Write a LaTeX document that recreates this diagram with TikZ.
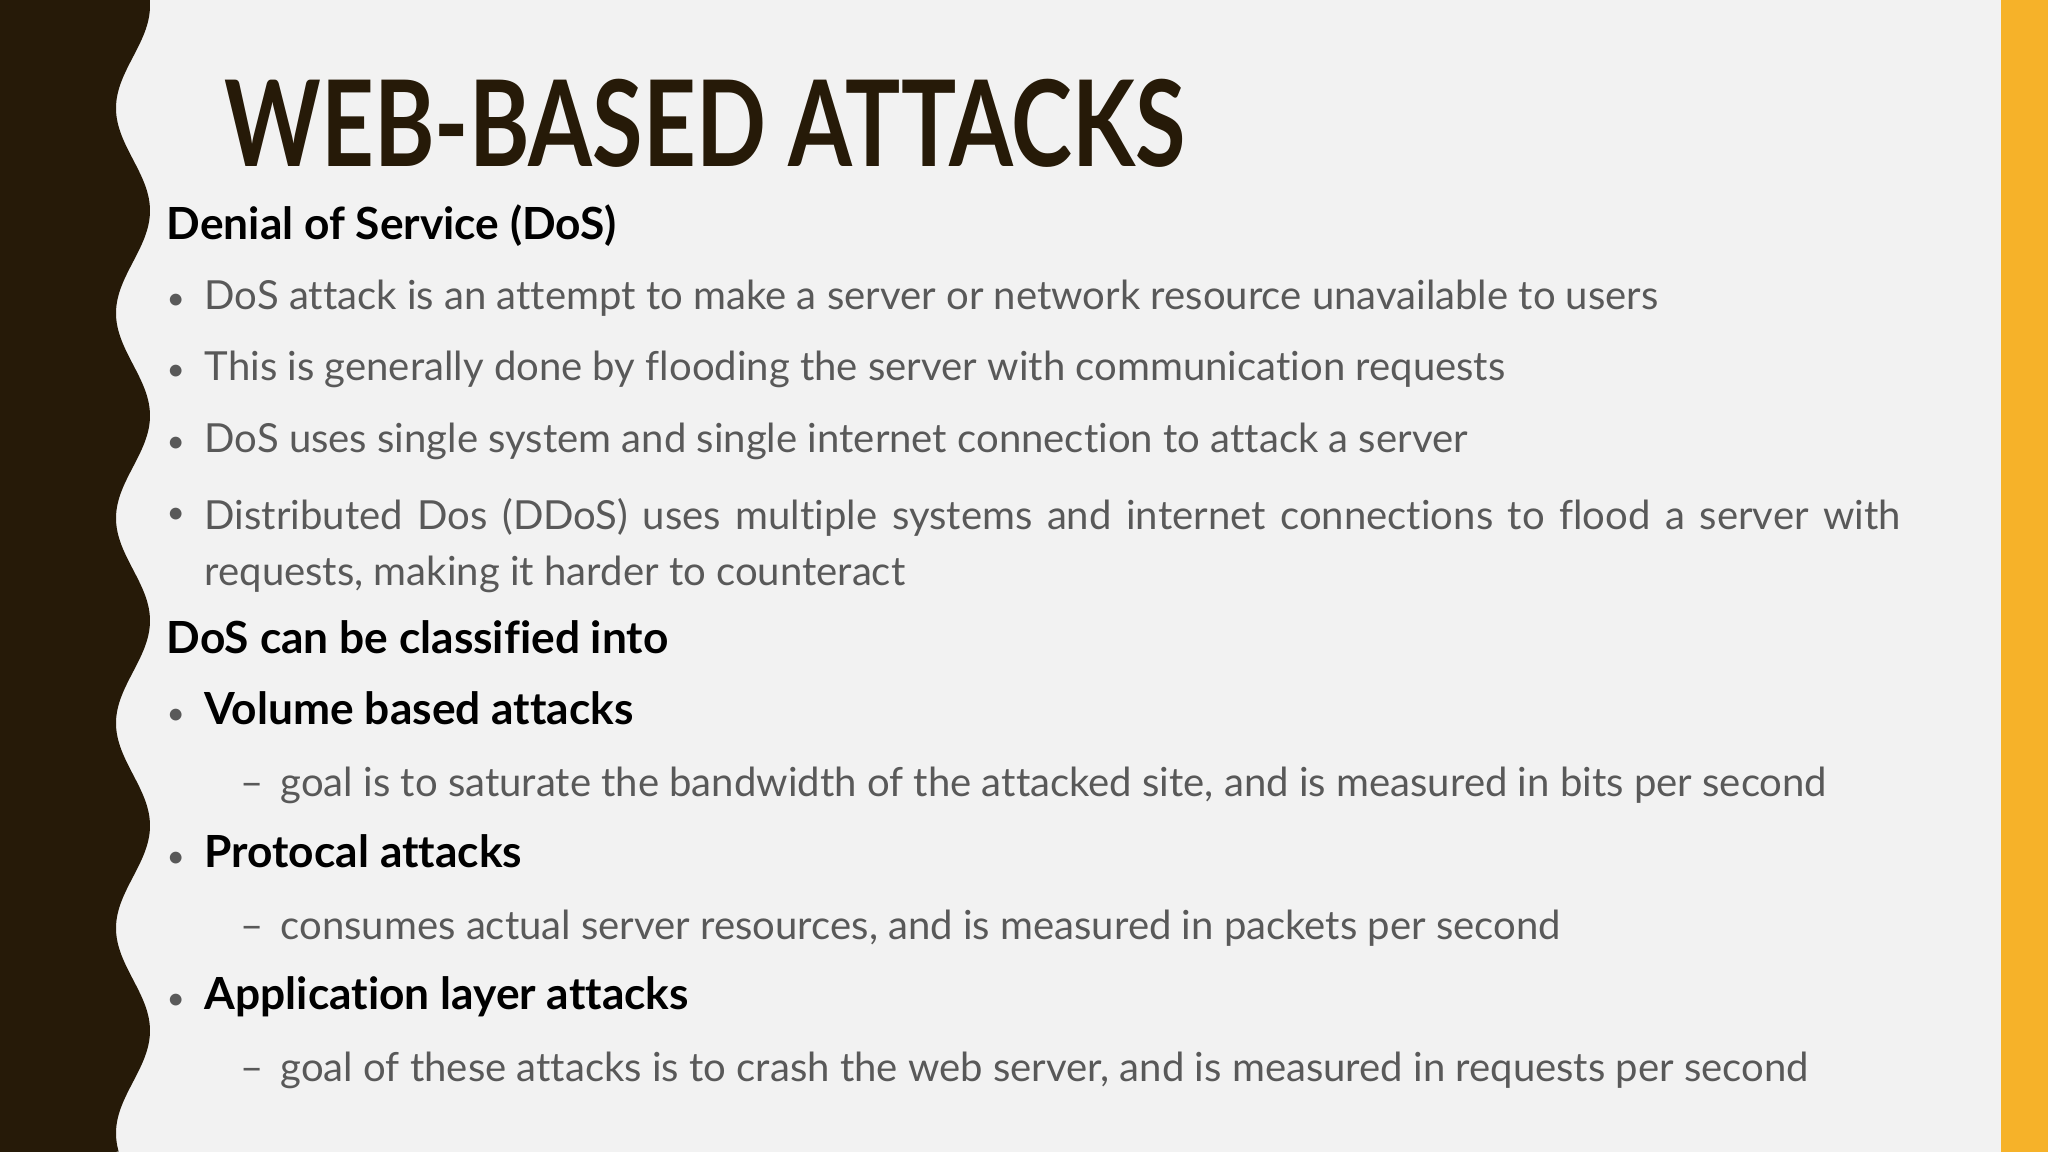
\documentclass[tikz,border=0pt]{standalone}
\usepackage{fontspec}
\setmainfont{Lato}[Ligatures=NoCommon]
\definecolor{bg}{RGB}{242,242,242}
\definecolor{darkb}{RGB}{38,26,8}
\definecolor{gold}{RGB}{246,178,41}
\definecolor{txt}{RGB}{89,89,89}
\begin{document}
\begin{tikzpicture}[x=1cm,y=1cm,
  body/.style={anchor=base west,inner sep=0pt,font=\fontsize{11.4pt}{14pt}\selectfont,text=txt},
  head/.style={anchor=base west,inner sep=0pt,font=\fontsize{12.6pt}{14pt}\selectfont\bfseries,text=black},
  bul/.style={anchor=base west,inner sep=0pt,font=\fontsize{9pt}{14pt}\selectfont,text=txt}]
\useasboundingbox (0,0) rectangle (20.48,-11.52);
\fill[bg] (0,0) rectangle (20.48,-11.52);
\fill[gold] (20.01,0) rectangle (20.48,-11.52);
\fill[darkb] (0,0) -- plot[domain=0:11.52,samples=200,smooth] ({1.33+0.17*sin(\x*360/2.05+80)},-\x) -- (0,-11.52) -- cycle;
\node (title) [anchor=base west,inner sep=0pt,text=darkb,xscale=0.77,font=\fontsize{34pt}{34pt}\selectfont\bfseries] at (2.24,-1.67) {WEB-BASED ATTACKS};
\node (h1) [head] at (1.66,-2.40) {Denial of Service (DoS)};
\foreach \y/\t [count=\i] in {3.10/DoS attack is an attempt to make a server or network resource unavailable to users,
 3.81/This is generally done by flooding the server with communication requests,
 4.53/DoS uses single system and single internet connection to attack a server}{
 \node (b\i) [bul] at (1.66,-\y) {•};
 \node (t\i) [body] at (2.04,-\y) {\t};}
\node (b4) [bul] at (1.66,-5.24) {•};
\node (t4) [body,anchor=north west,text width=16.96cm,align=justify,font=\fontsize{11.4pt}{15.9pt}\selectfont] at (2.04,-4.98) {Distributed Dos (DDoS) uses multiple systems and internet connections to flood a server with requests, making it harder to counteract};
\node (h2) [head] at (1.66,-6.53) {DoS can be classified into};
\foreach \y/\h/\s [count=\i] in {7.24/Volume based attacks/{goal is to saturate the bandwidth of the attacked site, and is measured in bits per second},
 8.67/Protocal attacks/{consumes actual server resources, and is measured in packets per second},
 10.09/Application layer attacks/{goal of these attacks is to crash the web server, and is measured in requests per second}}{
 \node (cb\i) [bul] at (1.66,-\y) {•};
 \node (ch\i) [head] at (2.04,-\y) {\h};
 \node (cd\i) [body] at (2.40,-\y-0.72) {–};
 \node (cs\i) [body] at (2.80,-\y-0.72) {\s};}
\end{tikzpicture}
\end{document}
